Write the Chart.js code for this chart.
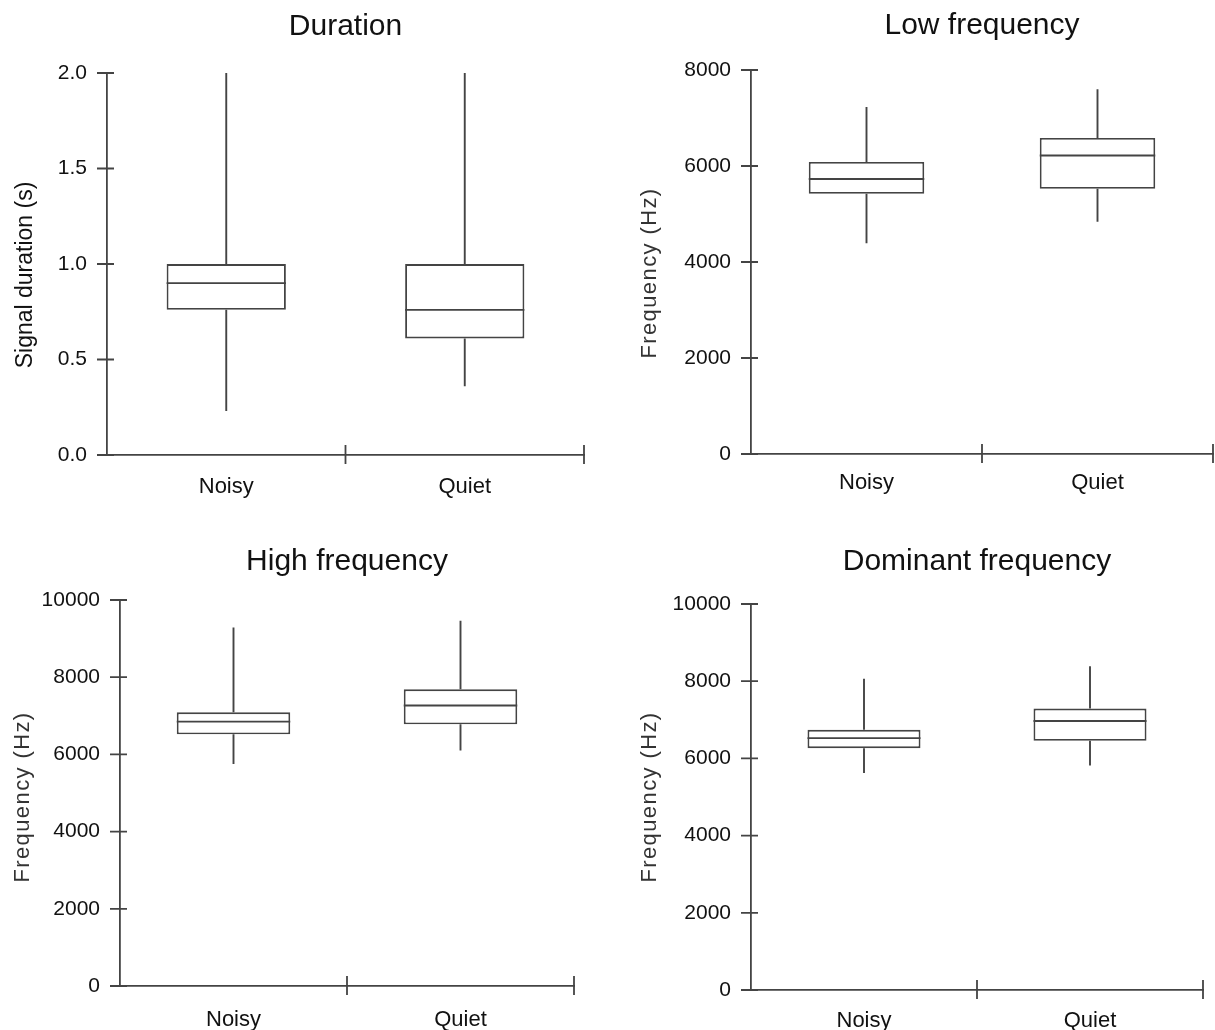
<!DOCTYPE html>
<html>
<head>
<meta charset="utf-8">
<title>Signal measures - Noisy vs Quiet</title>
<script src="https://cdn.jsdelivr.net/npm/chart.js@4.4.0/dist/chart.umd.min.js"></script>
<style>
  body { margin: 0; background: #fff; }
  #wrap { position: relative; width: 1215px; height: 1030px; }
  canvas { position: absolute; }
</style>
</head>
<body>
<div id="wrap">
  <canvas id="duration" width="607" height="530" style="left:0;top:0"></canvas>
  <canvas id="lowFreq" width="608" height="530" style="left:607px;top:0"></canvas>
  <canvas id="highFreq" width="607" height="500" style="left:0;top:530px"></canvas>
  <canvas id="domFreq" width="608" height="500" style="left:607px;top:530px"></canvas>
</div>
<script>
// categories on the x axis
const categories = ["Noisy", "Quiet"];

// Duration (s)
const durationMin = [0.23, 0.36];
const durationQ1 = [0.76, 0.61];
const durationMedian = [0.90, 0.76];
const durationQ3 = [1.00, 1.00];
const durationMax = [2.00, 2.00];
const durationTicks = ["0.0", "0.5", "1.0", "1.5", "2.0"];

// Low frequency (Hz)
const lowMin = [4390, 4840];
const lowQ1 = [5420, 5525];
const lowMedian = [5730, 6220];
const lowQ3 = [6085, 6585];
const lowMax = [7230, 7600];
const lowTicks = ["0", "2000", "4000", "6000", "8000"];

// High frequency (Hz)
const highMin = [5750, 6100];
const highQ1 = [6520, 6780];
const highMedian = [6850, 7265];
const highQ3 = [7090, 7685];
const highMax = [9290, 9465];
const highTicks = ["0", "2000", "4000", "6000", "8000", "10000"];

// Dominant frequency (Hz)
const domMin = [5625, 5815];
const domQ1 = [6265, 6455];
const domMedian = [6525, 6970];
const domQ3 = [6740, 7290];
const domMax = [8065, 8385];
const domTicks = ["0", "2000", "4000", "6000", "8000", "10000"];

const lineColor = "#444";
const textColor = "#111";
Chart.defaults.font.family = "'Liberation Sans', Arial, sans-serif";
Chart.defaults.color = textColor;

// whiskers + median, drawn from the bar elements and the y scale
const boxPlugin = {
  id: "boxParts",
  afterDatasetsDraw(chart) {
    const ctx = chart.ctx;
    const y = chart.scales.y;
    const ds = chart.data.datasets[0];
    const meta = chart.getDatasetMeta(0);
    ctx.save();
    ctx.strokeStyle = lineColor;
    ctx.lineWidth = 1.9;
    meta.data.forEach((bar, i) => {
      const half = bar.width / 2;
      ctx.beginPath();
      // upper whisker
      ctx.moveTo(bar.x, y.getPixelForValue(ds.q3[i]));
      ctx.lineTo(bar.x, y.getPixelForValue(ds.max[i]));
      // lower whisker
      ctx.moveTo(bar.x, y.getPixelForValue(ds.q1[i]));
      ctx.lineTo(bar.x, y.getPixelForValue(ds.min[i]));
      // median
      const my = y.getPixelForValue(ds.median[i]);
      ctx.moveTo(bar.x - half, my);
      ctx.lineTo(bar.x + half, my);
      ctx.stroke();
    });
    ctx.restore();
  }
};

// tick marks that cross the axis lines
const tickPlugin = {
  id: "crossTicks",
  afterDraw(chart) {
    const ctx = chart.ctx;
    const area = chart.chartArea;
    const x = chart.scales.x;
    const y = chart.scales.y;
    ctx.save();
    ctx.strokeStyle = lineColor;
    ctx.lineWidth = 1.8;
    ctx.beginPath();
    y.ticks.forEach((t, i) => {
      const py = y.getPixelForTick(i);
      ctx.moveTo(area.left - 10, py);
      ctx.lineTo(area.left + 7, py);
    });
    for (let i = 0; i < categories.length; i++) {
      const px = x.getPixelForValue(i + 0.5);
      ctx.moveTo(px, area.bottom - 10);
      ctx.lineTo(px, area.bottom + 9);
    }
    ctx.stroke();
    ctx.restore();
  }
};

// y title: a little letter spacing and a small vertical shift, like the original
const yTitlePlugin = {
  id: "yTitleStyle",
  afterLayout(chart, args, opts) {
    const s = chart.scales.y;
    if (s._styled) return;
    s._styled = true;
    const orig = s.drawTitle;
    s.drawTitle = function () {
      const ctx = this.ctx;
      ctx.save();
      ctx.letterSpacing = opts.spacing + "px";
      ctx.translate(0, opts.shift);
      orig.call(this);
      ctx.restore();
    };
  }
};

function makeChart(id, p) {
  const top = Number(p.ticks[p.ticks.length - 1]);
  new Chart(document.getElementById(id), {
    type: "bar",
    data: {
      labels: categories,
      datasets: [{
        data: p.q1.map((v, i) => [v, p.q3[i]]),
        min: p.min, q1: p.q1, median: p.median, q3: p.q3, max: p.max,
        backgroundColor: "#fff",
        borderColor: lineColor,
        borderWidth: 1.9,
        borderSkipped: false,
        barPercentage: 0.5,
        categoryPercentage: 1
      }]
    },
    options: {
      responsive: false,
      animation: false,
      layout: { padding: { right: p.padRight } },
      plugins: {
        legend: { display: false },
        tooltip: { enabled: false },
        title: {
          display: true,
          fullSize: false,
          text: p.title,
          color: textColor,
          font: { size: 30, weight: "normal" },
          padding: { top: p.titleTop, bottom: p.titleBottom }
        },
        yTitleStyle: { spacing: p.ySpacing, shift: p.yShift }
      },
      scales: {
        x: {
          grid: { display: false },
          border: { display: true, color: lineColor, width: 1.8 },
          ticks: { font: { size: 22 }, color: textColor, padding: p.xPad },
          afterFit: s => { s.height = p.xHeight; }
        },
        y: {
          min: 0,
          max: top,
          grid: { display: false },
          border: { display: true, color: lineColor, width: 1.8 },
          ticks: {
            stepSize: top / (p.ticks.length - 1),
            font: { size: 21 },
            color: textColor,
            padding: 12,
            callback: (v, i) => p.ticks[i]
          },
          title: {
            display: true,
            text: p.yTitle,
            color: p.yTitleColor,
            font: { size: p.yTitleSize },
            padding: { top: p.yTitlePad, bottom: 0 }
          },
          afterFit: s => { s.width = p.yWidth; }
        }
      }
    },
    plugins: [boxPlugin, tickPlugin, yTitlePlugin]
  });
}

makeChart("duration", {
  title: "Duration", yTitle: "Signal duration (s)", yTitleSize: 23, yTitleColor: textColor, ySpacing: 0, yShift: 11,
  min: durationMin, q1: durationQ1, median: durationMedian, q3: durationQ3, max: durationMax, ticks: durationTicks,
  titleTop: 9, titleBottom: 28, yWidth: 107, xHeight: 75, padRight: 23, xPad: 11, yTitlePad: 12
});
makeChart("lowFreq", {
  title: "Low frequency", yTitle: "Frequency (Hz)", yTitleSize: 22, yTitleColor: "#333", ySpacing: 1.4, yShift: 11,
  min: lowMin, q1: lowQ1, median: lowMedian, q3: lowQ3, max: lowMax, ticks: lowTicks,
  titleTop: 8, titleBottom: 26, yWidth: 144, xHeight: 76, padRight: 2, xPad: 8, yTitlePad: 30
});
makeChart("highFreq", {
  title: "High frequency", yTitle: "Frequency (Hz)", yTitleSize: 22, yTitleColor: "#333", ySpacing: 1.4, yShift: 4,
  min: highMin, q1: highQ1, median: highMedian, q3: highQ3, max: highMax, ticks: highTicks,
  titleTop: 14, titleBottom: 20, yWidth: 120, xHeight: 44, padRight: 33, xPad: 13, yTitlePad: 10
});
makeChart("domFreq", {
  title: "Dominant frequency", yTitle: "Frequency (Hz)", yTitleSize: 22, yTitleColor: "#333", ySpacing: 1.4, yShift: 0,
  min: domMin, q1: domQ1, median: domMedian, q3: domQ3, max: domMax, ticks: domTicks,
  titleTop: 14, titleBottom: 24, yWidth: 144, xHeight: 40, padRight: 12, xPad: 10, yTitlePad: 30
});
</script>
</body>
</html>
